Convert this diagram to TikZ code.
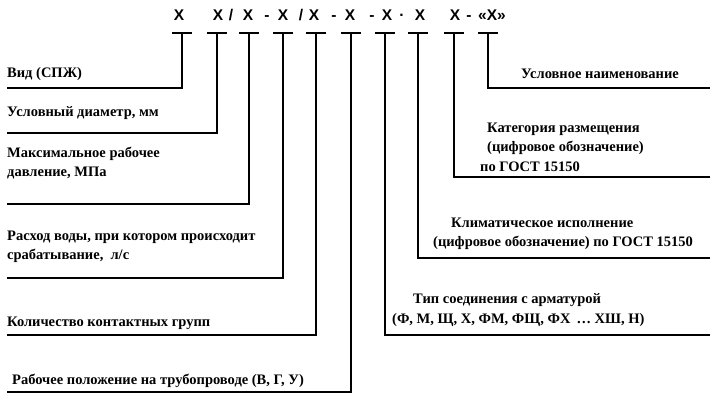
\documentclass[tikz,border=0pt]{standalone}
\usepackage{fontspec}
\setmainfont{Liberation Serif}
\newfontfamily\codefont{Liberation Sans}
\begin{document}
\begin{tikzpicture}[x=1pt,y=-1pt,
  lbl/.style={font=\bfseries\fontsize{14.5}{19.5}\selectfont, inner sep=0pt, align=left, anchor=west},
  lblc/.style={font=\bfseries\fontsize{14.5}{19.5}\selectfont, inner sep=0pt, align=center},
  code/.style={font=\codefont\bfseries\fontsize{15.5}{17}\selectfont, inner sep=0pt, anchor=base},
  stemline/.style={line width=1.6pt},
  tbar/.style={line width=1.6pt}]
\useasboundingbox (0,0) rectangle (713,396);
% top code
\node[code] (c1) at (179,20.5) {X};
\node[code] (c2) at (218,20.5) {X};
\node[code] (s1) at (231,20.5) {/};
\node[code] (c3) at (248,20.5) {X};
\node[code] (s2) at (267,20.5) {-};
\node[code] (c4) at (283,20.5) {X};
\node[code] (s3) at (301,20.5) {/};
\node[code] (c5) at (314,20.5) {X};
\node[code] (s4) at (334,20.5) {-};
\node[code] (c6) at (350,20.5) {X};
\node[code] (s5) at (372,20.5) {-};
\node[code] (c7) at (387,20.5) {X};
\node[code] (s6) at (402,20.5) {·};
\node[code] (c8) at (420,20.5) {X};
\node[code] (c9) at (455,20.5) {X};
\node[code] (s7) at (469,20.5) {-};
\node[code] (c10) at (492,20.5) {«X»};
% T marks
\foreach \i/\x in {1/182,2/217,3/249,4/283,5/316,6/351,7/385,8/418,9/454,10/488}{
  \coordinate (t\i) at (\x,33);
  \draw[tbar] (\x-10,33) -- (\x+10,33);
}
% left labels
\node[lbl] (n1) at (7,74) {Вид (СПЖ)};
\node[lbl] (n2) at (7,113) {Условный диаметр, мм};
\node[lbl] (n3) at (7,163) {Максимальное рабочее\\давление, МПа};
\node[lbl] (n4) at (7,247) {Расход воды, при котором происходит\\срабатывание,\ \ л/с};
\node[lbl] (n5) at (7,323) {Количество контактных групп};
\node[lbl] (n6) at (12,381) {Рабочее положение на трубопроводе (В, Г, У)};
% right labels
\node[lblc] (n10) at (600,74) {Условное наименование};
\node[lbl] (n9) at (480,147) {\hspace*{7pt}Категория размещения\\\hspace*{7pt}(цифровое обозначение)\\по ГОСТ 15150};
\node[lbl] (n8) at (433,234) {\hspace*{18pt}Климатическое исполнение\\(цифровое обозначение) по ГОСТ 15150};
\node[lbl] (n7) at (392,310) {\hspace*{21pt}Тип соединения с арматурой\\(Ф, М, Щ, Х, ФМ, ФЩ, ФХ \,\dots\ ХШ, Н)};
% line ends
\coordinate (e1) at (7,88);
\coordinate (e2) at (7,133);
\coordinate (e3) at (7,204);
\coordinate (e4) at (7,278);
\coordinate (e5) at (7,335);
\coordinate (e6) at (7,392);
\coordinate (e7) at (710,335);
\coordinate (e8) at (710,258);
\coordinate (e9) at (710,177);
\coordinate (e10) at (710,88);
\foreach \i in {1,...,10}{ \draw[stemline] (t\i) |- (e\i); }
\end{tikzpicture}
\end{document}
